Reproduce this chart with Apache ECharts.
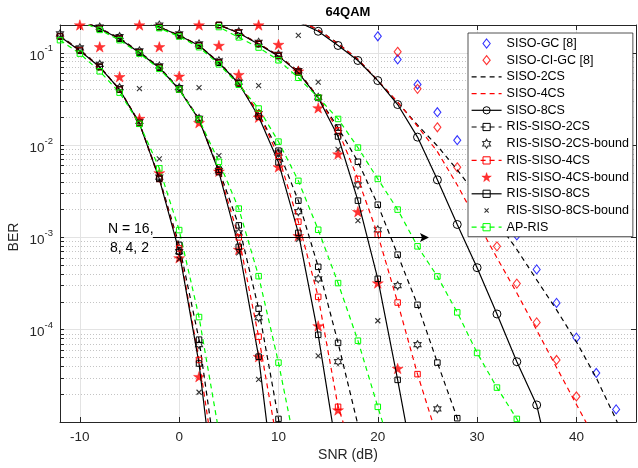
<!DOCTYPE html>
<html>
<head>
<meta charset="utf-8">
<script src="https://cdn.jsdelivr.net/npm/echarts@6.0.0/dist/echarts.min.js"></script>
<style>
  html, body { margin: 0; padding: 0; background: #fff; }
  #chart { width: 638px; height: 468px; }
</style>
</head>
<body>
<div id="chart"></div>
<script>
// ---- data (BER vs SNR in dB) ----
const snr16 = [-12, -10, -8, -6, -4, -2, 0, 2, 4];
const ris2cs16 = [0.152, 0.108, 0.071, 0.040, 0.0174, 0.0044, 8.3e-4, 7.8e-5, 2.3e-6];
const ris2csBound16 = [0.16, 0.113, 0.075, 0.042, 0.018, 0.0045, 7.0e-4, 6.9e-5, null];
const ris4cs16 = [0.15, 0.106, 0.07, 0.04, 0.0172, 0.0043, 7.6e-4, 4.7e-5, 1.7e-6];
const ris4csBound16 = [null, 0.2, 0.116, 0.055, 0.0194, 0.005, 6.0e-4, 3.1e-5, null];
const ris8cs16 = [0.15, 0.105, 0.07, 0.04, 0.0171, 0.0043, 7.0e-4, 4.3e-5, 6.8e-7];
const ris8csBound16 = [null, null, null, 0.15, 0.041, 0.0071, 5.8e-4, 2.1e-5, null];
const apRis16 = [0.137, 0.098, 0.063, 0.037, 0.017, 0.0056, 1.2e-3, 1.37e-4, 7.8e-6];

const snr8 = [-10, -8, -6, -4, -2, 0, 2, 4, 6, 8, 10, 12];
const ris2cs8 = [0.23, 0.185, 0.145, 0.102, 0.07, 0.041, 0.0192, 0.0054, 1.35e-3, 1.69e-4, 1.08e-5, 6e-7];
const ris2csBound8 = [null, 0.19, 0.15, 0.105, 0.072, 0.042, 0.0195, 0.0053, 1.12e-3, 1.35e-4, 8e-6, null];
const ris4cs8 = [0.23, 0.182, 0.142, 0.1, 0.069, 0.04, 0.019, 0.0052, 1.0e-3, 8.4e-5, 5e-6, null];
const ris4csBound8 = [null, null, null, 0.2, 0.116, 0.0557, 0.0175, 0.0052, 7.4e-4, 5.1e-5, 3e-6, null];
const ris8cs8 = [0.23, 0.182, 0.142, 0.1, 0.069, 0.04, 0.0189, 0.0051, 7.9e-4, 5.1e-5, 9e-7, null];
const ris8csBound8 = [null, null, null, null, null, 0.15, 0.042, 0.0077, 6.8e-4, 2.9e-5, null, null];
const apRis8 = [0.22, 0.177, 0.137, 0.098, 0.067, 0.04, 0.019, 0.0066, 2.05e-3, 3.8e-4, 4.4e-5, 3.7e-6];

const snr4 = [-4, -2, 0, 2, 4, 6, 8, 10, 12, 14, 16, 18, 20, 22];
const ris2cs4 = [0.25, 0.19, 0.155, 0.12, 0.079, 0.047, 0.022, 0.0087, 0.0025, 4.8e-4, 7.2e-5, 9.3e-6, null, null];
const ris2csBound4 = [null, 0.2, 0.16, 0.125, 0.082, 0.048, 0.022, 0.0082, 0.0019, 3.56e-4, 4.5e-5, 6e-6, null, null];
const ris4cs4 = [0.25, 0.19, 0.154, 0.12, 0.078, 0.047, 0.022, 0.0076, 1.48e-3, 2.27e-4, 1.46e-5, 3.2e-6, null, null];
const ris4csBound4 = [null, null, null, 0.2, 0.12, 0.058, 0.02, 0.0058, 1.04e-3, 1.1e-4, 1.35e-5, null, null, null];
const ris8cs4 = [0.25, 0.19, 0.154, 0.12, 0.078, 0.0465, 0.0204, 0.0065, 1.12e-3, 8.8e-5, 4e-6, null, null, null];
const ris8csBound4 = [null, null, null, null, null, 0.15, 0.0442, 0.0078, 9.5e-4, 5.2e-5, null, null, null, null];
const apRis4 = [0.24, 0.185, 0.15, 0.115, 0.075, 0.045, 0.0249, 0.0109, 0.0041, 1.21e-3, 3.2e-4, 7.6e-5, 1.46e-5, 3e-6];

const snr2 = [2, 4, 6, 8, 10, 12, 14, 16, 18, 20, 22, 24, 26, 28, 30, 32, 34, 36];
const ris2cs2 = [0.26, 0.2, 0.166, 0.126, 0.0935, 0.063, 0.0328, 0.0155, 0.0066, 2.26e-3, 6.5e-4, 1.86e-4, 4.4e-5, 1.1e-5, 3e-6, null, null, null];
const ris2csBound2 = [null, 0.21, 0.17, 0.13, 0.096, 0.064, 0.033, 0.0137, 0.0037, 1.21e-3, 3.0e-4, 6.9e-5, 1.39e-5, null, null, null, null, null];
const ris4cs2 = [0.26, 0.2, 0.165, 0.125, 0.093, 0.062, 0.0328, 0.0144, 0.0043, 1.07e-3, 1.97e-4, 3.3e-5, 6.8e-6, null, null, null, null, null];
const ris4csBound2 = [null, null, null, 0.2, 0.123, 0.0632, 0.0253, 0.008, 0.0019, 3.2e-4, 3.8e-5, null, null, null, null, null, null, null];
const ris8cs2 = [0.26, 0.2, 0.164, 0.124, 0.092, 0.061, 0.0325, 0.0124, 0.0025, 3.56e-4, 2.86e-5, 2e-6, null, null, null, null, null, null];
const ris8csBound2 = [null, null, null, null, null, 0.154, 0.048, 0.009, 1.52e-3, 1.25e-4, null, null, null, null, null, null, null, null];
const apRis2 = [0.25, 0.19, 0.147, 0.114, 0.083, 0.0536, 0.0328, 0.0192, 0.0094, 4.3e-3, 2.0e-3, 8.0e-4, 3.78e-4, 1.54e-4, 5.6e-5, 2.36e-5, 1.08e-5, 4.5e-6];

const snrSiso = [10, 12, 14, 16, 18, 20, 22, 24, 26, 28, 30, 32, 34, 36, 38, 40, 42, 44, 46];
const sisoGC = [null, null, null, null, null, 0.151, 0.0846, 0.0453, 0.0227, 0.0113, 5.16e-3, 2.32e-3, 1.05e-3, 4.5e-4, 1.95e-4, 8.2e-5, 3.4e-5, 1.37e-5, null];
const sisoCIGC = [null, null, null, null, null, null, 0.1026, 0.0407, 0.0156, 5.75e-3, 2.15e-3, 8.0e-4, 3.16e-4, 1.2e-4, 4.7e-5, 1.89e-5, null, null, null];
const siso2cs = [0.3, 0.225, 0.178, 0.126, 0.085, 0.05, 0.029, 0.0165, 0.0098, 0.0054, 2.83e-3, 1.48e-3, 7.4e-4, 3.47e-4, 1.64e-4, 7.4e-5, 3.0e-5, 1.06e-5, 3.4e-6];
const siso4cs = [0.3, 0.225, 0.177, 0.125, 0.085, 0.05, 0.0293, 0.016, 0.0085, 3.7e-3, 1.48e-3, 6.0e-4, 2.5e-4, 9.9e-5, 3.9e-5, 1.55e-5, 6.2e-6, null, null];
const siso8cs = [0.3, 0.215, 0.171, 0.12, 0.0825, 0.05, 0.0275, 0.0122, 4.2e-3, 1.38e-3, 4.7e-4, 1.48e-4, 4.5e-5, 1.53e-5, 1.8e-6, null, null, null, null];

// axis ticks
const xTicks = [-10, 0, 10, 20, 30, 40];
const yMajor = [1e-5, 1e-4, 1e-3, 1e-2, 1e-1];
const yLabels = [1e-4, 1e-3, 1e-2, 1e-1];
const yAll = [];
for (let e = -5; e <= -1; e++) {
  for (let m = 1; m <= 9; m++) {
    const v = Number((m * Math.pow(10, e)).toPrecision(6));
    if (v <= 0.2) yAll.push(v);
  }
}

const FONT = "'Liberation Sans', Arial, Helvetica, sans-serif";
const AXIS = '#262626';
const BLACK = '#000000', RED = '#ff0000', GREEN = '#00ff00', BLUE = '#0000ff';
const NONE = 'rgba(0,0,0,0)';
const DASH = [5, 4];

const STAR = 'path://M0,-1L0.2245,-0.309L0.9511,-0.309L0.3633,0.118L0.5878,0.809L0,0.382L-0.5878,0.809L-0.3633,0.118L-0.9511,-0.309L-0.2245,-0.309Z';
const HEXA = 'path://M0,-1L0.2887,-0.5L0.866,-0.5L0.5774,0L0.866,0.5L0.2887,0.5L0,1L-0.2887,0.5L-0.866,0.5L-0.5774,0L-0.866,-0.5L-0.2887,-0.5Z';
const DIAM = 'path://M0,-1.25L1,0L0,1.25L-1,0Z';
const CROSS = 'path://M-1,-1L1,1M1,-1L-1,1';
const CROSS_LEG = 'path://M-2.2,-2.2L-2.2,-2.2M2.2,2.2L2.2,2.2M-1,-1L1,1M1,-1L-1,1';
const ARROW = 'path://M0,-1L0.7,1L0,0.55L-0.7,1Z';

function pairs(snr, ber) {
  return snr.map((s, i) => [s, ber[i]]).filter((p) => p[1] != null);
}

function curve(name, snr, ber, color, dashed, symbol, size) {
  return {
    name,
    type: 'line',
    data: pairs(snr, ber),
    symbol: symbol || 'none',
    symbolSize: size || 6,
    showSymbol: !!symbol,
    showAllSymbol: true,
    lineStyle: { color, width: 1.2, type: dashed ? DASH : 'solid' },
    itemStyle: { color: NONE, borderColor: color, borderWidth: 1 },
    emphasis: { disabled: true },
    animation: false,
  };
}

function marks(name, snr, ber, color, symbol, size, filled) {
  return {
    name,
    type: 'scatter',
    data: pairs(snr, ber),
    symbol,
    symbolSize: size,
    itemStyle: {
      color: filled ? color : NONE,
      borderColor: color,
      borderWidth: filled ? 0.5 : 1.1,
    },
    emphasis: { disabled: true },
    animation: false,
  };
}

const groups = [
  { snr: snr16, r2: ris2cs16, b2: ris2csBound16, r4: ris4cs16, b4: ris4csBound16, r8: ris8cs16, b8: ris8csBound16, ap: apRis16 },
  { snr: snr8, r2: ris2cs8, b2: ris2csBound8, r4: ris4cs8, b4: ris4csBound8, r8: ris8cs8, b8: ris8csBound8, ap: apRis8 },
  { snr: snr4, r2: ris2cs4, b2: ris2csBound4, r4: ris4cs4, b4: ris4csBound4, r8: ris8cs4, b8: ris8csBound4, ap: apRis4 },
  { snr: snr2, r2: ris2cs2, b2: ris2csBound2, r4: ris4cs2, b4: ris4csBound2, r8: ris8cs2, b8: ris8csBound2, ap: apRis2 },
];

const series = [
  marks('SISO-GC [8]', snrSiso, sisoGC, BLUE, DIAM, [7, 9], false),
  marks('SISO-CI-GC [8]', snrSiso, sisoCIGC, RED, DIAM, [7, 9], false),
  curve('SISO-2CS', snrSiso, siso2cs, BLACK, true),
  curve('SISO-4CS', snrSiso, siso4cs, RED, true),
  curve('SISO-8CS', snrSiso, siso8cs, BLACK, false, 'circle', 8),
];
groups.forEach((g) => series.push(curve('RIS-SISO-2CS', g.snr, g.r2, BLACK, true, 'rect', 5.5)));
groups.forEach((g) => series.push(marks('RIS-SISO-2CS-bound', g.snr, g.b2, BLACK, HEXA, [7, 8], false)));
groups.forEach((g) => series.push(curve('RIS-SISO-4CS', g.snr, g.r4, RED, true, 'rect', 5.5)));
groups.forEach((g) => series.push(marks('RIS-SISO-4CS-bound', g.snr, g.b4, RED, STAR, [11, 10.5], true)));
groups.forEach((g) => series.push(curve('RIS-SISO-8CS', g.snr, g.r8, BLACK, false, 'rect', 5.5)));
groups.forEach((g) => series.push(marks('RIS-SISO-8CS-bound', g.snr, g.b8, BLACK, CROSS, 5, false)));
groups.forEach((g) => series.push(curve('AP-RIS', g.snr, g.ap, GREEN, true, 'rect', 5.5)));

// arrow "N = 16, 8, 4, 2"
series.push({
  type: 'line',
  data: [],
  silent: true,
  animation: false,
  markLine: {
    silent: true,
    symbol: ['none', ARROW],
    symbolSize: 9,
    label: { show: false },
    itemStyle: { color: BLACK },
    lineStyle: { color: BLACK, width: 1.2, type: 'solid' },
    data: [[{ coord: [-2.65, 1e-3] }, { coord: [24.7, 1e-3] }]],
  },
});

const lineLeg = (name, color, dashed, border) => ({
  name,
  itemStyle: { color: NONE, borderColor: border ? color : NONE, borderWidth: border ? 1 : 0 },
  lineStyle: { color, width: 1.2, type: dashed ? DASH : 'solid' },
});
const markLeg = (name, color, icon, filled) => ({
  name,
  icon,
  itemStyle: { color: filled ? color : NONE, borderColor: color, borderWidth: filled ? 0.5 : 1.1 },
});

const option = {
  animation: false,
  backgroundColor: '#fff',
  textStyle: { fontFamily: FONT },
  grid: { left: 60, right: 2, top: 25, bottom: 46, containLabel: false, outerBoundsMode: 'none' },
  graphic: [
    { type: 'text', x: 348, y: 12, style: { text: '64QAM', font: 'bold 13px ' + FONT, fill: '#000', align: 'center', verticalAlign: 'middle' } },
    { type: 'text', x: 348, y: 455, style: { text: 'SNR (dB)', font: '14px ' + FONT, fill: AXIS, align: 'center', verticalAlign: 'middle' } },
    { type: 'text', x: 14, y: 237, rotation: Math.PI / 2, style: { text: 'BER', font: '14px ' + FONT, fill: AXIS, align: 'center', verticalAlign: 'middle' } },
    { type: 'text', x: 108, y: 229, z: 10, style: { text: 'N = 16,', font: '14px ' + FONT, fill: '#000', align: 'left', verticalAlign: 'middle' } },
    { type: 'text', x: 110, y: 248, z: 10, style: { text: '8, 4, 2', font: '14px ' + FONT, fill: '#000', align: 'left', verticalAlign: 'middle' } },
  ],
  legend: {
    orient: 'vertical',
    left: 468,
    top: 33,
    padding: [4, 4, 3, 3],
    itemWidth: 30,
    itemHeight: 9,
    itemGap: 3.7,
    backgroundColor: '#fff',
    borderColor: AXIS,
    borderWidth: 0.8,
    borderRadius: 0,
    selectedMode: false,
    textStyle: { fontFamily: FONT, fontSize: 12.5, color: '#000' },
    data: [
      markLeg('SISO-GC [8]', BLUE, DIAM, false),
      markLeg('SISO-CI-GC [8]', RED, DIAM, false),
      lineLeg('SISO-2CS', BLACK, true, false),
      lineLeg('SISO-4CS', RED, true, false),
      lineLeg('SISO-8CS', BLACK, false, true),
      lineLeg('RIS-SISO-2CS', BLACK, true, true),
      markLeg('RIS-SISO-2CS-bound', BLACK, HEXA, false),
      lineLeg('RIS-SISO-4CS', RED, true, true),
      markLeg('RIS-SISO-4CS-bound', RED, STAR, true),
      lineLeg('RIS-SISO-8CS', BLACK, false, true),
      markLeg('RIS-SISO-8CS-bound', BLACK, CROSS_LEG, false),
      lineLeg('AP-RIS', GREEN, true, true),
    ],
  },
  xAxis: [
    {
      type: 'value', min: -12, max: 46, position: 'bottom',
      axisLine: { show: true, onZero: false, lineStyle: { color: AXIS, width: 1 } },
      axisTick: { show: true, inside: true, length: 5, customValues: xTicks, lineStyle: { color: AXIS } },
      axisLabel: { customValues: xTicks, color: AXIS, fontSize: 13.5, fontFamily: FONT, margin: 8 },
      splitLine: { show: true, lineStyle: { color: '#e3e3e3', width: 1 } },
    },
    {
      type: 'value', min: -12, max: 46, position: 'top',
      axisLine: { show: true, onZero: false, lineStyle: { color: AXIS, width: 1 } },
      axisTick: { show: true, inside: true, length: 5, customValues: xTicks, lineStyle: { color: AXIS } },
      axisLabel: { show: false },
      splitLine: { show: false },
    },
  ],
  yAxis: [
    {
      type: 'log', logBase: 10, min: 1e-5, max: 0.2, position: 'left',
      axisLine: { show: true, onZero: false, lineStyle: { color: AXIS, width: 1 } },
      axisTick: { show: true, inside: true, length: 4, customValues: yAll, lineStyle: { color: AXIS } },
      axisLabel: {
        customValues: yLabels,
        margin: 7,
        color: AXIS,
        fontFamily: FONT,
        formatter: (v) => '{b|10}{s|' + Math.round(Math.log10(v)) + '}',
        rich: {
          b: { fontSize: 13.5, fontFamily: FONT, color: AXIS, lineHeight: 14, padding: [6, 0, 0, 0] },
          s: { fontSize: 9.5, fontFamily: FONT, color: AXIS, lineHeight: 10, padding: [0, 0, 8, 0] },
        },
      },
      splitLine: { show: true, lineStyle: { color: '#c4c4c4', width: 1, type: [1, 2] } },
    },
    {
      type: 'log', logBase: 10, min: 1e-5, max: 0.2, position: 'right',
      axisLine: { show: true, onZero: false, lineStyle: { color: AXIS, width: 1 } },
      axisTick: { show: true, inside: true, length: 5, customValues: yMajor, lineStyle: { color: AXIS } },
      axisLabel: { show: false },
      splitLine: { show: true, lineStyle: { color: '#e3e3e3', width: 1 } },
    },
  ],
  series,
};

const chart = echarts.init(document.getElementById('chart'), null, { renderer: 'canvas' });
chart.setOption(option);
</script>
</body>
</html>
